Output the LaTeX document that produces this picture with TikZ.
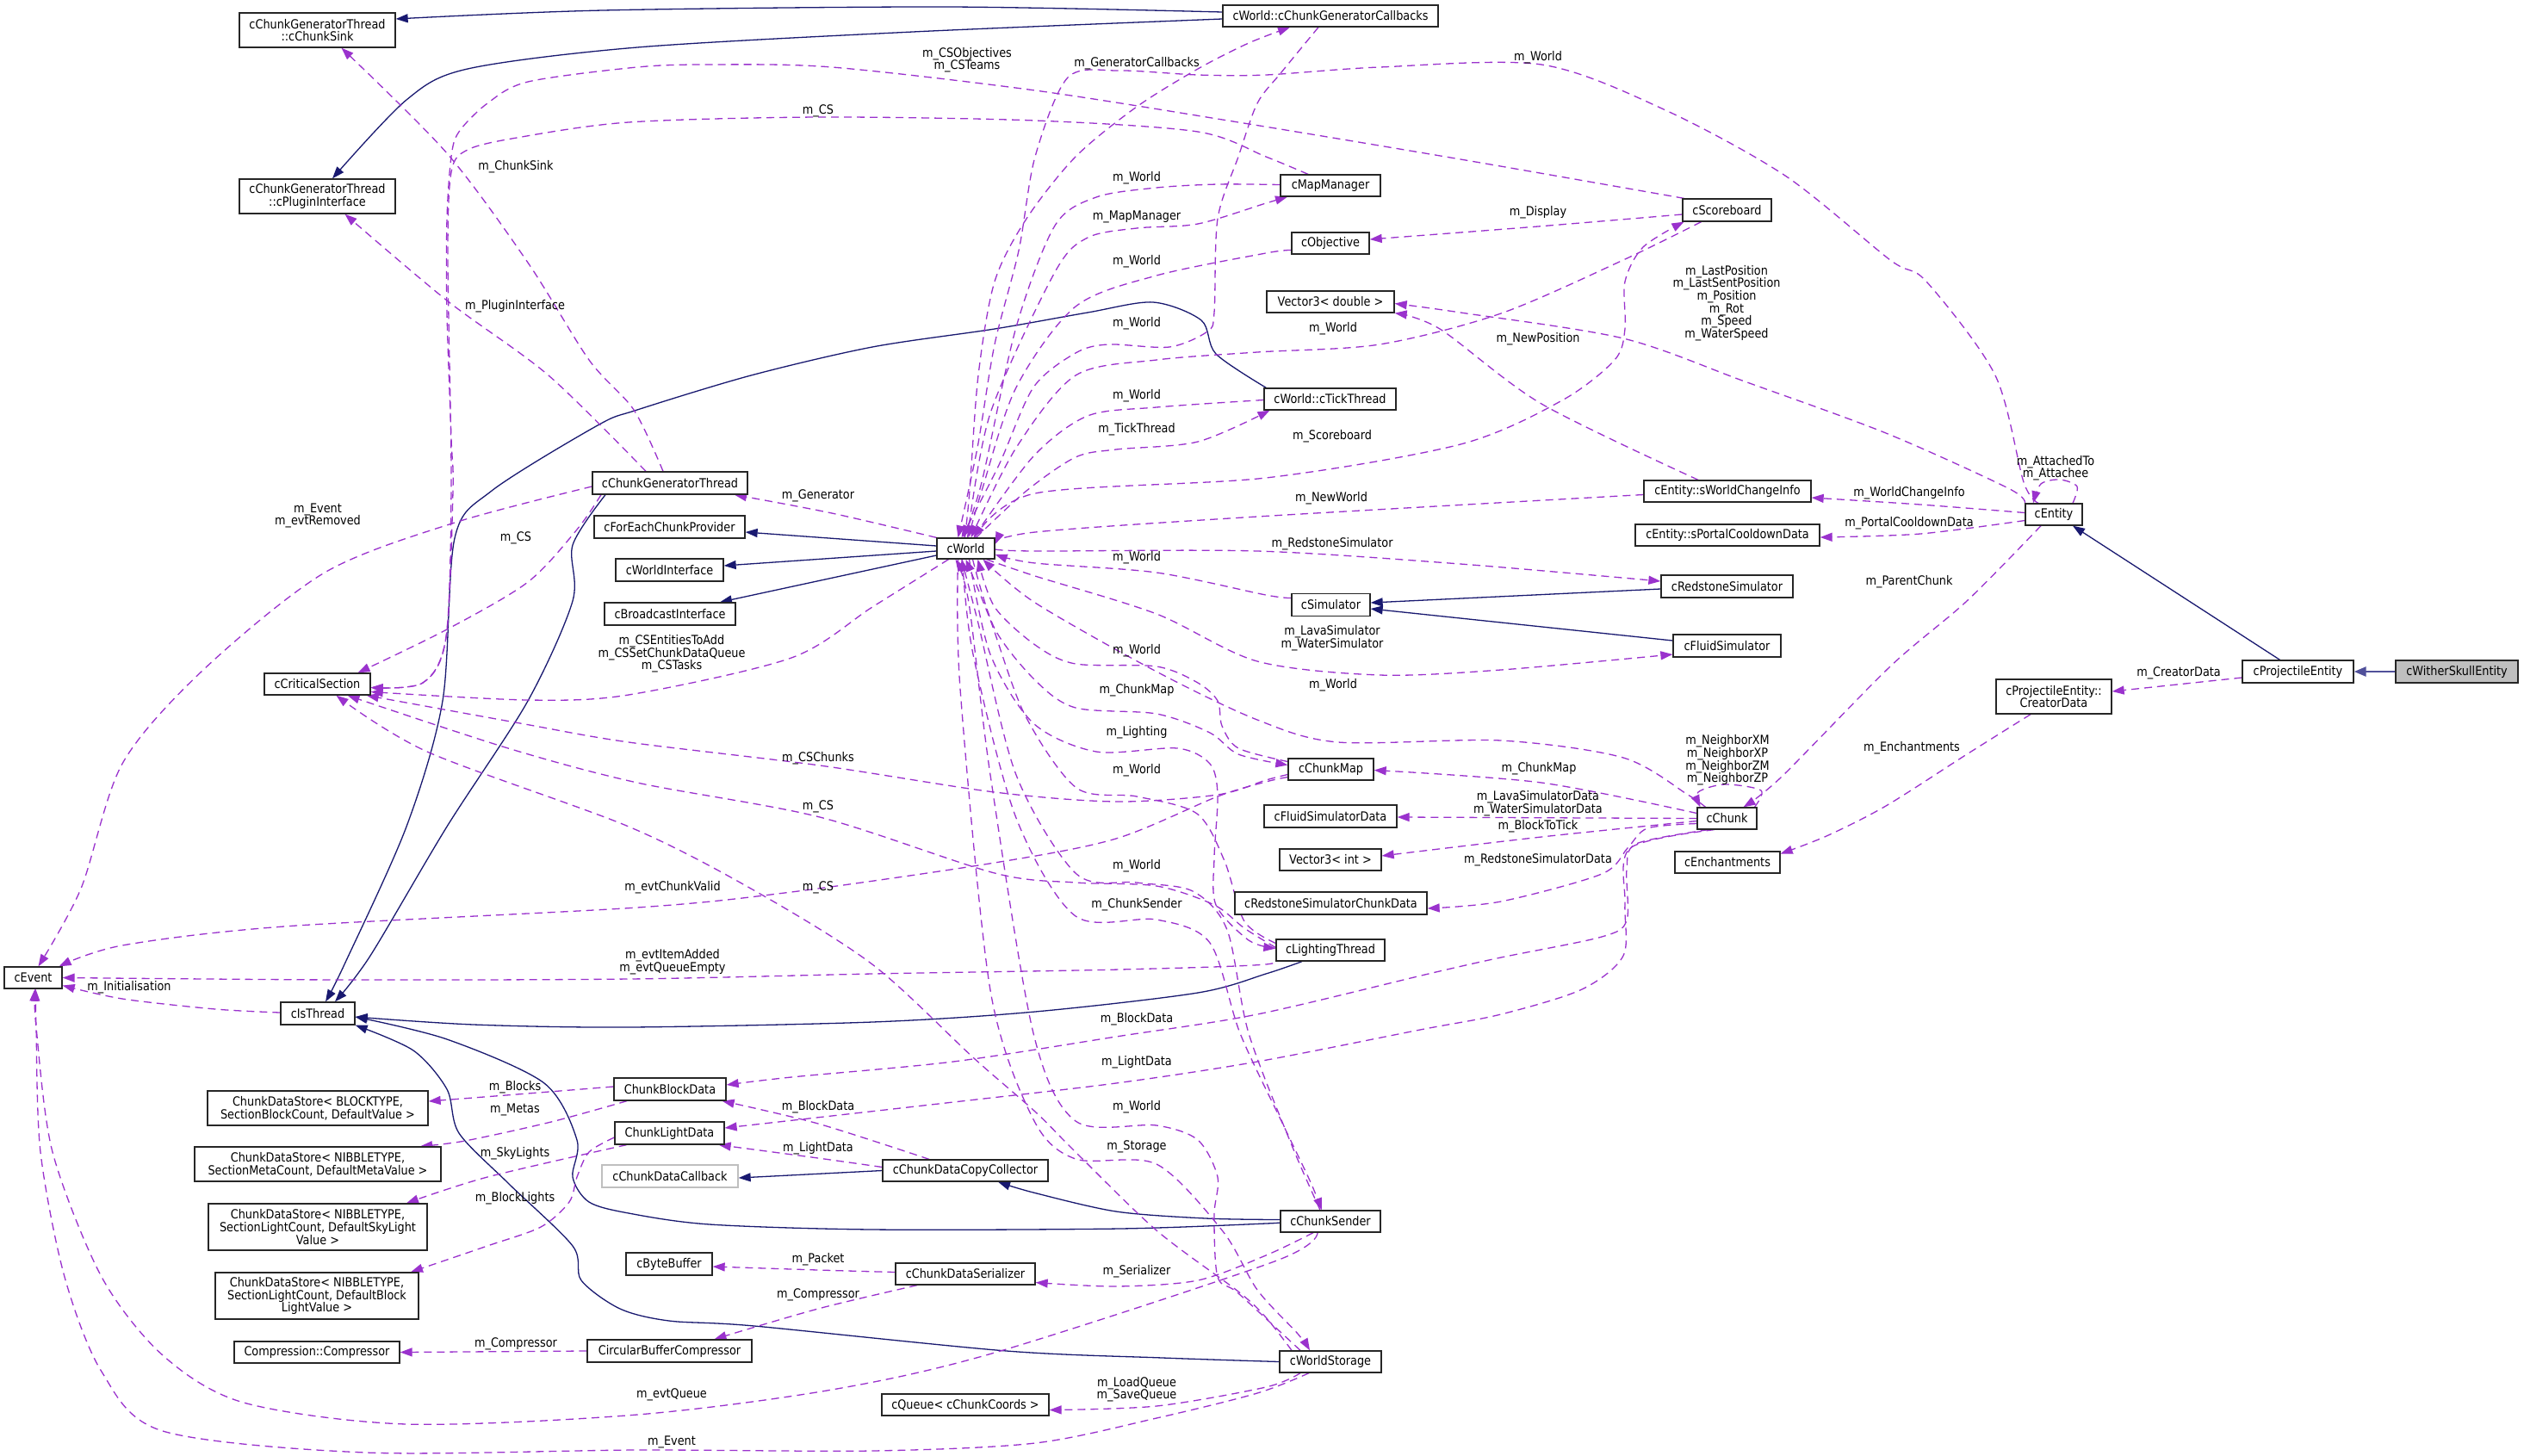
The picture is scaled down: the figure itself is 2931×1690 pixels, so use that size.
\documentclass[tikz,border=0pt]{standalone}
\usepackage{fontspec}
\setmainfont{DejaVu Sans}[FakeStretch=0.88]
\usetikzlibrary{arrows.meta}
\definecolor{inhcol}{HTML}{191970}
\definecolor{usecol}{HTML}{9A32CD}
\definecolor{gbox}{HTML}{BFBFBF}
\definecolor{wcol}{HTML}{50509A}
\pgfdeclarelayer{edges}
\pgfsetlayers{edges,main}
\newcommand{\dfont}{\fontsize{14.6pt}{14.6pt}\selectfont}
\newcommand{\mybox}[6]{\node[box,minimum width=#4pt,minimum height=#5pt] (#1) at (#2,#3) {#6};}
\begin{document}
\begin{tikzpicture}[x=1pt,y=-1pt,
  box/.style={draw=black!85,line width=1.3pt,fill=white,inner sep=1pt,align=center,font=\dfont},
  lbl/.style={inner sep=0pt,align=center,font=\dfont},
  memb/.style={usecol,line width=1.3pt,dash pattern=on 9pt off 6pt,-{Triangle[length=14pt,width=10pt]}},
  inhr/.style={inhcol,line width=1.3pt,-{Triangle[length=14pt,width=10pt]}}]
\useasboundingbox (0,0) rectangle (2931,1690);
% ---------- nodes
\mybox{sink}{368.5}{35}{181}{40}{cChunkGeneratorThread\\::cChunkSink}
\mybox{plugin}{368.5}{228}{181}{40}{cChunkGeneratorThread\\::cPluginInterface}
\mybox{callbacks}{1545}{18.5}{250}{25}{cWorld::cChunkGeneratorCallbacks}
\mybox{mapmgr}{1545}{215.5}{116}{25}{cMapManager}
\mybox{objective}{1545}{282.5}{90}{25}{cObjective}
\mybox{scoreboard}{2005.5}{244}{103}{26}{cScoreboard}
\mybox{vecd}{1545}{350.5}{148}{25}{Vector3< double >}
\mybox{tick}{1544.5}{463.5}{153}{25}{cWorld::cTickThread}
\mybox{swci}{2006}{570.5}{194}{25}{cEntity::sWorldChangeInfo}
\mybox{spcd}{2006}{621.5}{214}{25}{cEntity::sPortalCooldownData}
\mybox{redsim}{2005.5}{681}{153}{26}{cRedstoneSimulator}
\mybox{csim}{1545.5}{702.5}{91}{26}{cSimulator}
\mybox{fluidsim}{2005.5}{750}{125}{26}{cFluidSimulator}
\mybox{cmap}{1545.5}{893.5}{99}{25}{cChunkMap}
\mybox{fsd}{1545}{948}{154}{26}{cFluidSimulatorData}
\mybox{cchunk}{2005.5}{950.5}{69}{25}{cChunk}
\mybox{veci}{1545}{998.5}{118}{25}{Vector3< int >}
\mybox{ench}{2006}{1001.5}{122}{25}{cEnchantments}
\mybox{rscd}{1545.5}{1049}{223}{26}{cRedstoneSimulatorChunkData}
\mybox{light}{1545}{1103.5}{126}{25}{cLightingThread}
\mybox{centity}{2385}{597.5}{66}{25}{cEntity}
\mybox{proj}{2668.5}{780}{129}{26}{cProjectileEntity}
\node[box,fill=gbox,minimum width=142pt,minimum height=26pt] (wither) at (2853,780) {cWitherSkullEntity};
\mybox{creator}{2385}{809}{134}{40}{cProjectileEntity::\\CreatorData}
\mybox{cworld}{1121.5}{637}{67}{24}{cWorld}
\mybox{fecp}{777.5}{612}{175}{26}{cForEachChunkProvider}
\mybox{cwi}{777.5}{662}{125}{26}{cWorldInterface}
\mybox{cbi}{778}{713}{152}{26}{cBroadcastInterface}
\mybox{cgt}{778}{561}{180}{26}{cChunkGeneratorThread}
\mybox{ccs}{368.5}{794.5}{123}{25}{cCriticalSection}
\mybox{cevent}{38.5}{1135.5}{67}{25}{cEvent}
\mybox{isthread}{369}{1177}{86}{26}{cIsThread}
\mybox{cdsb}{369}{1287}{256}{40}{ChunkDataStore< BLOCKTYPE,\\ SectionBlockCount, DefaultValue >}
\mybox{cdsm}{369}{1352}{286}{40}{ChunkDataStore< NIBBLETYPE,\\ SectionMetaCount, DefaultMetaValue >}
\mybox{cdss}{369}{1425}{254}{54}{ChunkDataStore< NIBBLETYPE,\\ SectionLightCount, DefaultSkyLight\\Value >}
\mybox{cdsbl}{368}{1505}{236}{54}{ChunkDataStore< NIBBLETYPE,\\ SectionLightCount, DefaultBlock\\LightValue >}
\mybox{compr}{368}{1570.5}{192}{25}{Compression::Compressor}
\mybox{cbd}{778}{1265}{130}{26}{ChunkBlockData}
\mybox{cld}{777.5}{1316}{127}{26}{ChunkLightData}
\node[box,draw=gbox,minimum width=158pt,minimum height=26pt] (cdcb) at (778,1366) {cChunkDataCallback};
\mybox{cbc}{777.5}{1569}{191}{26}{CircularBufferCompressor}
\mybox{cbb}{777}{1468}{100}{26}{cByteBuffer}
\mybox{cdcc}{1121}{1359.5}{192}{25}{cChunkDataCopyCollector}
\mybox{cdser}{1121}{1479.5}{162}{25}{cChunkDataSerializer}
\mybox{cqueue}{1121}{1631.5}{194}{25}{cQueue< cChunkCoords >}
\mybox{csender}{1545}{1418.5}{116}{25}{cChunkSender}
\mybox{cws}{1545}{1581.5}{118}{25}{cWorldStorage}
% ---------- labels
\node[lbl] (l01) at (599,194) {m\_ChunkSink};
\node[lbl] (l02) at (598,356) {m\_PluginInterface};
\node[lbl] (l03) at (1123,69.5) {m\_CSObjectives\\m\_CSTeams};
\node[lbl] (l04) at (1320,74) {m\_GeneratorCallbacks};
\node[lbl] (l05) at (950,129) {m\_CS};
\node[lbl] (l06) at (1786,67) {m\_World};
\node[lbl] (l07) at (1320,207) {m\_World};
\node[lbl] (l08) at (1320,252) {m\_MapManager};
\node[lbl] (l09) at (1786,247) {m\_Display};
\node[lbl] (l10) at (1320,304) {m\_World};
\node[lbl] (l11) at (2005,352) {m\_LastPosition\\m\_LastSentPosition\\m\_Position\\m\_Rot\\m\_Speed\\m\_WaterSpeed};
\node[lbl] (l12) at (1320,376) {m\_World};
\node[lbl] (l13) at (1548,382) {m\_World};
\node[lbl] (l14) at (1786,394) {m\_NewPosition};
\node[lbl] (l15) at (1320,460) {m\_World};
\node[lbl] (l16) at (1320,499) {m\_TickThread};
\node[lbl] (l17) at (1547,507) {m\_Scoreboard};
\node[lbl] (l18) at (2387,543.5) {m\_AttachedTo\\m\_Attachee};
\node[lbl] (l19) at (950,576) {m\_Generator};
\node[lbl] (l20) at (1546,579) {m\_NewWorld};
\node[lbl] (l21) at (2217,573) {m\_WorldChangeInfo};
\node[lbl] (l22) at (369,599) {m\_Event\\m\_evtRemoved};
\node[lbl] (l23) at (599,625) {m\_CS};
\node[lbl] (l24) at (2217,608) {m\_PortalCooldownData};
\node[lbl] (l25) at (1547,632) {m\_RedstoneSimulator};
\node[lbl] (l26) at (1320,648) {m\_World};
\node[lbl] (l27) at (2217,676) {m\_ParentChunk};
\node[lbl] (l28) at (1547,741) {m\_LavaSimulator\\m\_WaterSimulator};
\node[lbl] (l29) at (780,759.5) {m\_CSEntitiesToAdd\\m\_CSSetChunkDataQueue\\m\_CSTasks};
\node[lbl] (l30) at (1320,756) {m\_World};
\node[lbl] (l31) at (2530,782) {m\_CreatorData};
\node[lbl] (l32) at (1548,796) {m\_World};
\node[lbl] (l33) at (1320,802) {m\_ChunkMap};
\node[lbl] (l34) at (1320,851) {m\_Lighting};
\node[lbl] (l35) at (2006,883) {m\_NeighborXM\\m\_NeighborXP\\m\_NeighborZM\\m\_NeighborZP};
\node[lbl] (l36) at (2220,869) {m\_Enchantments};
\node[lbl] (l37) at (950,881) {m\_CSChunks};
\node[lbl] (l38) at (1320,895) {m\_World};
\node[lbl] (l39) at (1787,893) {m\_ChunkMap};
\node[lbl] (l40) at (1786,933) {m\_LavaSimulatorData\\m\_WaterSimulatorData};
\node[lbl] (l41) at (950,937) {m\_CS};
\node[lbl] (l42) at (1786,960) {m\_BlockToTick};
\node[lbl] (l43) at (1786,999) {m\_RedstoneSimulatorData};
\node[lbl] (l44) at (1320,1006) {m\_World};
\node[lbl] (l45) at (781,1031) {m\_evtChunkValid};
\node[lbl] (l46) at (950,1031) {m\_CS};
\node[lbl] (l47) at (1320,1051) {m\_ChunkSender};
\node[lbl] (l48) at (781,1117) {m\_evtItemAdded\\m\_evtQueueEmpty};
\node[lbl] (l49) at (150,1147) {m\_Initialisation};
\node[lbl] (l50) at (1320,1184) {m\_BlockData};
\node[lbl] (l51) at (1320,1234) {m\_LightData};
\node[lbl] (l52) at (598,1263) {m\_Blocks};
\node[lbl] (l53) at (598,1289) {m\_Metas};
\node[lbl] (l54) at (598,1340) {m\_SkyLights};
\node[lbl] (l55) at (598,1392) {m\_BlockLights};
\node[lbl] (l56) at (950,1286) {m\_BlockData};
\node[lbl] (l57) at (950,1334) {m\_LightData};
\node[lbl] (l58) at (1320,1286) {m\_World};
\node[lbl] (l59) at (1320,1332) {m\_Storage};
\node[lbl] (l60) at (950,1463) {m\_Packet};
\node[lbl] (l61) at (1320,1477) {m\_Serializer};
\node[lbl] (l62) at (950,1504) {m\_Compressor};
\node[lbl] (l63) at (599,1561) {m\_Compressor};
\node[lbl] (l64) at (780,1620) {m\_evtQueue};
\node[lbl] (l65) at (1320,1613.5) {m\_LoadQueue\\m\_SaveQueue};
\node[lbl] (l66) at (780,1675) {m\_Event};
% ---------- edges
\begin{pgfonlayer}{edges}
\fill[white] (0,0) rectangle (2931,1690);
% inheritance
\draw[inhr] plot[smooth] coordinates {([yshift=4.5pt]callbacks.west) (1100,8) (700,12) ([yshift=13pt]sink.east)};
\draw[inhr] plot[smooth] coordinates {([yshift=-3.5pt]callbacks.west) (1060,37) (740,55) (543,80) (472,116) ([xshift=17.5pt]plugin.north)};
\draw[inhr] ([yshift=3pt]cworld.west) -- ([yshift=-6pt]fecp.east);
\draw[inhr] ([yshift=-3pt]cworld.west) -- ([yshift=5pt]cwi.east);
\draw[inhr] ([yshift=-8pt]cworld.west) -- ([xshift=58pt]cbi.north);
\draw[inhr] ([yshift=-3pt]redsim.west) -- ([yshift=2.5pt]csim.east);
\draw[inhr] ([yshift=6pt]fluidsim.west) -- ([yshift=-4.5pt]csim.east);
\draw[inhr] ([xshift=-21pt]proj.north) -- ([xshift=22pt]centity.south);
\draw[wcol,line width=2.6pt,-{Triangle[length=14pt,width=11pt]}] (wither.west) -- (proj.east);
\draw[inhr] plot[smooth] coordinates {([xshift=-33pt]light.south) (1470,1131) (1391,1153) (1202,1175) (1013,1187) (730,1193) (550,1190) ([yshift=-4pt]isthread.east)};
\draw[inhr] plot[smooth] coordinates {([xshift=-75pt]cgt.south) (665,633) (665,698) (613,814) (519,960) (430,1110) ([xshift=20pt]isthread.north)};
\draw[inhr] plot[smooth] coordinates {([xshift=3pt]tick.north west) (1412,411) (1395,372) (1339,351) (1263,363) (1155,382) (1013,403) (872,436) (740,476) (694,494) (571,570) (528,625) (514,814) (472,960) (400,1120) ([xshift=9pt]isthread.north)};
\draw[inhr] plot[smooth] coordinates {([yshift=-1pt]csender.west) (1470,1421) (1300,1427) (1013,1428) (824,1422) (730,1409) (684,1396) (665,1367) (670,1324) (632,1258) (519,1207) ([yshift=-4pt]isthread.east)};
\draw[inhr] plot[smooth] coordinates {([yshift=2pt]csender.west) (1400,1415) (1296,1407) (1200,1385) ([xshift=38pt]cdcc.south)};
\draw[inhr] plot[smooth] coordinates {(cws.west) (1350,1577) (1169,1569) (876,1540) (777,1534) (720,1520) (675,1487) (665,1447) (590,1374) (533,1316) (519,1265) (480,1220) (isthread.south east)};
\draw[inhr] (cdcc.west) -- ([yshift=-2pt]cdcb.east);
% usage: cChunkGeneratorThread
\draw[memb] plot[smooth] coordinates {([xshift=-8pt]cgt.north) (736,476) (684,418) (613,305) (519,178) ([xshift=28pt]sink.south)};
\draw[memb] plot[smooth] coordinates {([xshift=-28pt]cgt.north) (637,436) (519,349) ([xshift=32pt]plugin.south)};
\draw[memb] plot[smooth] coordinates {([yshift=-4pt]cgt.west) (528,607) (377,665) (236,778) (142,887) (94,1032) ([xshift=6pt]cevent.north)};
\draw[memb] plot[smooth] coordinates {([xshift=-80pt]cgt.south) (670,615) (613,676) (519,731) ([xshift=47pt]ccs.north)};
% cWorld
\draw[memb] plot[smooth] coordinates {(cworld.north west) (966,596) ([xshift=75pt]cgt.south)};
\draw[memb] plot[smooth] coordinates {([xshift=-20pt]cworld.south) (1013,705) (919,764) (730,807) (613,813) ([yshift=-9pt]ccs.east)};
\draw[memb] plot[smooth] coordinates {([yshift=-6pt]cmap.west) (1470,906) (1414,923) (1296,931) (1155,920) (952,889) (730,862) (604,840) ([xshift=-5pt]ccs.south east)};
\draw[memb] plot[smooth] coordinates {([yshift=-9pt]cmap.west) (1470,908) (1414,925) (1296,974) (1155,1002) (919,1036) (740,1054) (330,1076) (142,1098) ([xshift=-4pt]cevent.north east)};
\draw[memb] plot[smooth] coordinates {([yshift=3pt]light.west) (1445,1078) (1410,1051) (1343,1029) (1249,1025) (1155,1014) (952,949) (740,909) (590,869) ([xshift=35pt]ccs.south)};
\draw[memb] plot[smooth] coordinates {([yshift=-6pt]light.west) (1470,1120) (1300,1126) (1013,1131) (730,1137) (400,1138) (cevent.east)};
\draw[memb] plot[smooth] coordinates {([yshift=1pt]isthread.west) (250,1172) (142,1160) ([yshift=-9pt]cevent.east)};
\draw[memb] plot[smooth] coordinates {([xshift=-45pt]cws.north) (1470,1530) (1438,1500) (1343,1429) (1249,1338) (1202,1291) (1131,1229) (1013,1120) (872,1032) (730,960) (496,873) ([xshift=22pt]ccs.south)};
\draw[memb] plot[smooth] coordinates {([xshift=-26pt]mapmgr.north) (1470,182) (1391,153) (1202,140) (952,136) (730,142) (600,160) (543,174) (524,200) (520,300) (524,560) (518,740) (491,793) ([yshift=-4pt]ccs.east)};
\draw[memb] plot[smooth] coordinates {([xshift=-50pt]scoreboard.north) (1696,185) (1438,142) (1202,105) (966,78) (824,75) (740,78) (613,95) (566,120) (533,153) (524,182) (519,254) (519,363) (524,509) (526,570) (518,740) (491,793) ([yshift=-4pt]ccs.east)};
\draw[memb] plot[smooth] coordinates {([xshift=-14pt]callbacks.south) (1488,84) (1460,120) (1438,182) (1414,254) (1410,363) (1402,385) (1358,403) (1287,400) (1249,410) (1200,450) (1160,540) ([xshift=-5pt]cworld.north)};
\draw[memb] plot[smooth] coordinates {([xshift=-1pt]cworld.north) (1126,570) (1136,436) (1155,327) (1192,254) (1249,182) (1320,124) (1391,80) (1450,50) ([xshift=-47pt]callbacks.south)};
\draw[memb] plot[smooth] coordinates {([xshift=-18pt]centity.north) (2350,560) (2317,436) (2237,327) (2195,302) (2073,204) (1932,127) (1790,75) (1602,78) (1470,87) (1391,87) (1300,82) (1240,90) (1202,182) (1183,291) (1155,400) (1135,520) ([xshift=-9pt]cworld.north)};
\draw[memb] plot[smooth] coordinates {([yshift=1pt]mapmgr.west) (1414,214) (1343,218) (1273,229) (1225,262) (1180,380) (1140,560) ([xshift=-3pt]cworld.north)};
\draw[memb] plot[smooth] coordinates {([xshift=2pt]cworld.north) (1150,480) (1225,316) (1263,276) (1320,265) (1391,260) (1470,236) ([xshift=-50pt]mapmgr.south)};
\draw[memb] plot[smooth] coordinates {([yshift=-8pt]objective.west) (1470,294) (1343,320) (1249,356) (1180,450) (1140,570) ([xshift=3pt]cworld.north)};
\draw[memb] plot[smooth] coordinates {([xshift=-30pt]scoreboard.south) (1885,302) (1743,364) (1602,400) (1460,409) (1343,418) (1249,436) (1180,520) ([xshift=6pt]cworld.north)};
\draw[memb] plot[smooth] coordinates {([xshift=10pt]cworld.north) (1202,573) (1470,555) (1696,516) (1814,465) (1875,418) (1887,382) (1887,327) (1908,287) ([xshift=-50pt]scoreboard.south)};
\draw[memb] plot[smooth] coordinates {([yshift=-1pt]tick.west) (1343,473) (1263,483) (1200,530) ([xshift=9pt]cworld.north)};
\draw[memb] plot[smooth] coordinates {([xshift=12pt]cworld.north) (1192,570) (1249,531) (1296,522) (1391,513) ([xshift=-70pt]tick.south)};
\draw[memb] plot[smooth] coordinates {([yshift=-4pt]swci.west) (1460,600) (1202,618) ([yshift=5pt]cworld.east)};
\draw[memb] plot[smooth] coordinates {([yshift=-1pt]cworld.east) (1202,640) (1460,640) (1696,655) ([yshift=6pt]redsim.west)};
\draw[memb] plot[smooth] coordinates {([yshift=8pt]csim.west) (1470,691) (1343,665) (1202,654) ([yshift=-7pt]cworld.east)};
\draw[memb] plot[smooth] coordinates {([xshift=24pt]cworld.south) (1202,669) (1343,713) (1460,768) (1602,784) (1743,778) ([yshift=-10pt]fluidsim.west)};
\draw[memb] plot[smooth] coordinates {([yshift=9pt]cmap.west) (1438,869) (1419,843) (1414,814) (1391,793) (1343,774) (1249,771) (1202,749) (1155,705) ([xshift=14pt]cworld.south)};
\draw[memb] plot[smooth] coordinates {([xshift=8pt]cworld.south) (1155,730) (1202,790) (1249,822) (1343,829) (1405,851) (1438,876) ([yshift=5pt]cmap.west)};
\draw[memb] plot[smooth] coordinates {([xshift=4pt]cworld.south) (1150,760) (1200,840) (1273,873) (1367,869) (1405,887) (1414,923) (1410,996) (1412,1051) (1450,1092) ([yshift=2pt]light.west)};
\draw[memb] plot[smooth] coordinates {([yshift=8pt]light.west) (1445,1070) (1422,1000) (1390,945) (1320,925) (1250,915) (1190,830) (1150,720) (cworld.south)};
\draw[memb] plot[smooth] coordinates {([xshift=-12pt]csender.north) (1500,1330) (1450,1200) (1425,1080) (1385,1035) (1320,1025) (1250,1015) (1180,900) (1135,720) ([xshift=-5pt]cworld.south)};
\draw[memb] plot[smooth] coordinates {([xshift=-4pt]cworld.south) (1130,760) (1180,950) (1249,1064) (1343,1068) (1405,1095) (1440,1200) (1488,1302) (1521,1371) ([xshift=-10pt]csender.north)};
\draw[memb] plot[smooth] coordinates {([xshift=-35pt]cws.north) (1438,1502) (1414,1483) (1410,1411) (1414,1367) (1391,1324) (1343,1307) (1249,1302) (1200,1200) (1150,900) (1125,700) ([xshift=-12pt]cworld.south)};
\draw[memb] plot[smooth] coordinates {([xshift=-9pt]cworld.south) (1115,800) (1150,1150) (1200,1300) (1249,1346) (1343,1352) (1420,1430) (1460,1498) (1507,1549) ([xshift=-24pt]cws.north)};
% cChunk / cEntity
\draw[memb] plot[smooth] coordinates {([xshift=-25pt]cchunk.north) (1960,923) (1885,880) (1743,860) (1554,862) (1460,836) (1343,780) (1202,700) ([xshift=20pt]cworld.south)};
\draw[memb] plot[smooth] coordinates {([xshift=32pt]cchunk.north) (2045,918) (2003,911) (1972,920) ([xshift=-31pt]cchunk.north)};
\draw[memb] plot[smooth] coordinates {([xshift=-15pt]centity.south) (2284,698) (2195,774) (2069,902) ([xshift=19pt]cchunk.north)};
\draw[memb] plot[smooth] coordinates {([yshift=6pt]cchunk.west) (1790,909) ([yshift=-1pt]cmap.east)};
\draw[memb] (cchunk.west) -- ([yshift=-1pt]fsd.east);
\draw[memb] plot[smooth] coordinates {([yshift=-3pt]cchunk.west) (1790,972) ([yshift=4.5pt]veci.east)};
\draw[memb] plot[smooth] coordinates {([yshift=-6pt]cchunk.west) (1913,962) (1890,985) (1860,1015) (1743,1047) ([yshift=-6pt]rscd.east)};
\draw[memb] plot[smooth] coordinates {([xshift=-22pt]cchunk.south) (1900,980) (1889,1010) (1889,1069) (1860,1088) (1743,1112) (1663,1130) (1460,1178) (1296,1204) (1107,1233) (919,1251) ([yshift=5pt]cbd.east)};
\draw[memb] plot[smooth] coordinates {([xshift=-15pt]cchunk.south) (1893,985) (1887,1050) (1885,1110) (1837,1149) (1743,1178) (1649,1196) (1460,1233) (1296,1258) (1107,1280) ([yshift=6pt]cld.east)};
\draw[memb] plot[smooth] coordinates {([xshift=-27pt]creator.south) (2284,876) (2190,936) (2121,971) ([yshift=10pt]ench.east)};
\draw[memb] ([yshift=-7pt]proj.west) -- ([yshift=6pt]creator.east);
\draw[memb] plot[smooth] coordinates {([yshift=2pt]centity.west) (2230,586) ([yshift=-7.5pt]swci.east)};
\draw[memb] plot[smooth] coordinates {([yshift=-7pt]centity.west) (2230,620) ([yshift=-2.5pt]spcd.east)};
\draw[memb] plot[smooth] coordinates {([xshift=22pt]centity.north) (2412,565) (2392,557) (2370,562) ([xshift=-24pt]centity.north)};
\draw[memb] plot[smooth] coordinates {(centity.north west) (2332,567) (2190,503) (2026,443) (1885,393) (1696,363) ([yshift=-2pt]vecd.east)};
\draw[memb] plot[smooth] coordinates {([xshift=-34pt]swci.north) (1790,469) (1672,382) (vecd.south east)};
\draw[memb] plot[smooth] coordinates {([yshift=-5pt]scoreboard.west) (1786,263) ([yshift=4.5pt]objective.east)};
% lower left
\draw[memb] plot[smooth] coordinates {([yshift=3pt]cbd.west) (600,1271) ([yshift=8pt]cdsb.east)};
\draw[memb] plot[smooth] coordinates {([xshift=-50pt]cbd.south) (640,1303) (540,1325) ([xshift=119pt]cdsm.north)};
\draw[memb] plot[smooth] coordinates {([xshift=-50pt]cld.south) (566,1367) ([xshift=103pt]cdss.north)};
\draw[memb] plot[smooth] coordinates {([yshift=-5pt]cld.west) (684,1338) (670,1367) (661,1396) (628,1425) (566,1447) ([xshift=109pt]cdsbl.north)};
\draw[memb] (cbc.west) -- (compr.east);
\draw[memb] plot[smooth] coordinates {([xshift=-42pt]cdcc.north) (950,1305) ([xshift=-5pt]cbd.south east)};
\draw[memb] plot[smooth] coordinates {([yshift=4pt]cdcc.west) (950,1345) ([xshift=-7pt]cld.south east)};
\draw[memb] plot[smooth] coordinates {([yshift=2pt]cdser.west) (950,1475) ([yshift=-3pt]cbb.east)};
\draw[memb] plot[smooth] coordinates {([xshift=-56pt]cdser.south) (950,1520) ([xshift=52pt]cbc.north)};
\draw[memb] plot[smooth] coordinates {([xshift=-20pt]csender.south) (1470,1458) (1391,1487) (1296,1494) ([yshift=-10pt]cdser.east)};
\draw[memb] plot[smooth] coordinates {([xshift=-15pt]csender.south) (1480,1465) (1155,1571) (966,1614) (740,1643) (472,1654) (283,1629) (189,1574) (118,1483) (61,1338) (42,1193) ([xshift=2pt]cevent.south)};
\draw[memb] plot[smooth] coordinates {([xshift=-25pt]cws.south) (1460,1618) (1343,1647) (1202,1676) (1013,1685) (740,1684) (425,1687) (189,1662) (118,1593) (75,1483) (47,1338) (42,1193) ([xshift=3pt]cevent.south)};
\draw[memb] plot[smooth] coordinates {([xshift=-35pt]cws.south) (1470,1611) (1343,1633) ([yshift=-6pt]cqueue.east)};
\end{pgfonlayer}
\end{tikzpicture}
\end{document}
